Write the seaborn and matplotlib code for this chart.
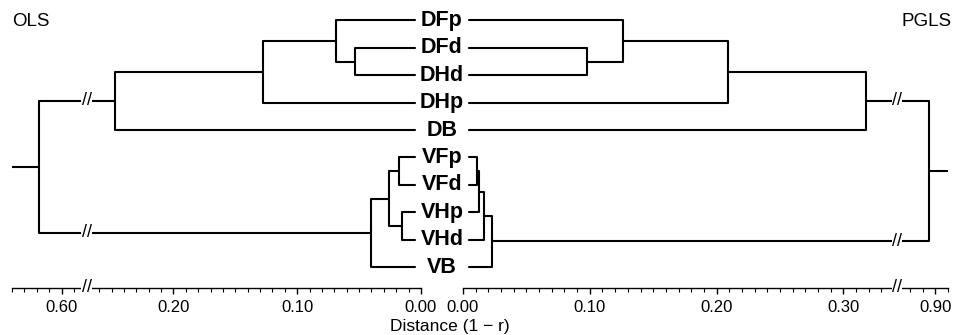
"""
Mirrored dendrograms of trait distances (1 - r): OLS on the left, PGLS on the right,
with broken distance axes.
"""

import matplotlib.pyplot as plt
import numpy as np
import pandas as pd
import seaborn as sns
from matplotlib.ticker import FixedLocator, FormatStrFormatter
from matplotlib.transforms import blended_transform_factory


LEAVES = ["DFp", "DFd", "DHd", "DHp", "DB", "VFp", "VFd", "VHp", "VHd", "VB"]

# merges, scipy style: children are leaf indices (0-9) or earlier merges (10+)
OLS_LEFT = [1, 0, 11, 12, 5, 7, 14, 16, 13]
OLS_RIGHT = [2, 10, 3, 4, 6, 8, 15, 9, 17]
OLS_HEIGHT = [0.053, 0.069, 0.128, 0.247, 0.018, 0.0155, 0.026, 0.040, 0.618]

PGLS_LEFT = [1, 0, 11, 12, 5, 14, 15, 16, 13]
PGLS_RIGHT = [2, 10, 3, 4, 6, 7, 8, 9, 17]
PGLS_HEIGHT = [0.098, 0.126, 0.209, 0.318, 0.011, 0.0126, 0.0165, 0.023, 0.895]

OLS_TICKS = [0.0, 0.1, 0.2, 0.6]
PGLS_TICKS = [0.0, 0.1, 0.2, 0.3, 0.9]

# axis breaks: (last value before break, first value after break)
OLS_BREAK = (0.27, 0.58)
PGLS_BREAK = (0.342, 0.870)
OLS_END = 0.64
PGLS_END = 0.91

LEAF_PAD = 0.005
W, H = 954, 335


def broken_scale(lo, hi):
    xp = [0.0, lo, hi, 2.0]
    fp = [0.0, lo, lo + 0.0005, lo + 0.0005 + (2.0 - hi)]
    return (lambda v: np.interp(v, xp, fp), lambda v: np.interp(v, fp, xp))


def build_segments(left, right, height):
    ys = list(range(len(LEAVES)))
    hs = [LEAF_PAD] * len(LEAVES)
    rows = []
    for k, (a, b, h) in enumerate(zip(left, right, height)):
        for x, y in [(hs[a], ys[a]), (h, ys[a]), (h, ys[b]), (hs[b], ys[b])]:
            rows.append({"seg": k, "x": x, "y": y})
        ys.append((ys[a] + ys[b]) / 2)
        hs.append(h)
    return pd.DataFrame(rows), ys


def break_mark(ax, x, y, transform=None):
    kw = {} if transform is None else {"transform": transform}
    ax.text(x, y, "//", ha="center", va="center", fontsize=13, color="black",
            bbox=dict(facecolor="white", edgecolor="none", pad=0.1),
            clip_on=False, **kw)


def draw_tree(ax, left, right, height, brk, end, ticks):
    ax.set_xscale("function", functions=broken_scale(*brk))
    df, ys = build_segments(left, right, height)
    sns.lineplot(data=df, x="x", y="y", units="seg", estimator=None, sort=False,
                 color="black", lw=1.5, ax=ax, legend=False)
    # root stub
    ax.plot([height[-1], end], [ys[-1], ys[-1]], color="black", lw=1.5)

    ax.set_ylim(9.763, -0.748)
    ax.set_xlabel("")
    ax.set_ylabel("")
    ax.set_yticks([])
    for s in ["left", "right", "top"]:
        ax.spines[s].set_visible(False)
    ax.spines["bottom"].set_linewidth(1.0)
    ax.spines["bottom"].set_color("black")

    minor = np.concatenate([np.arange(0.0, brk[0] + 0.001, 0.01),
                            np.arange(brk[1], end + 0.001, 0.01)])
    minor = minor[np.round(minor, 3) % 0.1 > 0.001]
    ax.xaxis.set_major_locator(FixedLocator(ticks))
    ax.xaxis.set_minor_locator(FixedLocator(minor))
    ax.xaxis.set_major_formatter(FormatStrFormatter("%.2f"))
    ax.tick_params(axis="x", which="both", bottom=True, direction="out",
                   color="black", labelcolor="black")
    ax.tick_params(axis="x", which="major", length=4.5, width=1, labelsize=12, pad=4)
    ax.tick_params(axis="x", which="minor", length=3, width=0.8)

    # break marks on the two root branches and on the axis
    mid = (brk[0] + brk[1]) / 2
    for child in (left[-1], right[-1]):
        break_mark(ax, mid, ys[child])
    break_mark(ax, mid, 0.0, blended_transform_factory(ax.transData, ax.transAxes))


sns.set_theme(style="white")
plt.rcParams["font.family"] = ["Liberation Sans", "DejaVu Sans"]
plt.rcParams["text.color"] = "black"

fig = plt.figure(figsize=(W / 100, H / 100), dpi=100)
bottom = 1 - 288 / H
ax_l = fig.add_axes([12 / W, bottom, 409 / W, 288 / H])
ax_r = fig.add_axes([463 / W, bottom, 485 / W, 288 / H])

draw_tree(ax_l, OLS_LEFT, OLS_RIGHT, OLS_HEIGHT, OLS_BREAK, OLS_END, OLS_TICKS)
ax_l.set_xlim(OLS_END, 0.0)
draw_tree(ax_r, PGLS_LEFT, PGLS_RIGHT, PGLS_HEIGHT, PGLS_BREAK, PGLS_END, PGLS_TICKS)
ax_r.set_xlim(0.0, PGLS_END)

label_trans = blended_transform_factory(fig.transFigure, ax_l.transData)
for i, name in enumerate(LEAVES):
    ax_l.text(442 / W, i, name, transform=label_trans, ha="center", va="center",
              fontsize=15.5, fontweight="bold", color="black", clip_on=False,
              zorder=5)

fig.text(12 / W, 1 - 22 / H, "OLS", ha="left", va="center", fontsize=13.5)
fig.text(952 / W, 1 - 22 / H, "PGLS", ha="right", va="center", fontsize=13.5)
fig.text(450 / W, 1 - 327 / H, "Distance (1 \u2212 r)", ha="center", va="center",
         fontsize=12.5)

fig.savefig("out.png", dpi=100)
